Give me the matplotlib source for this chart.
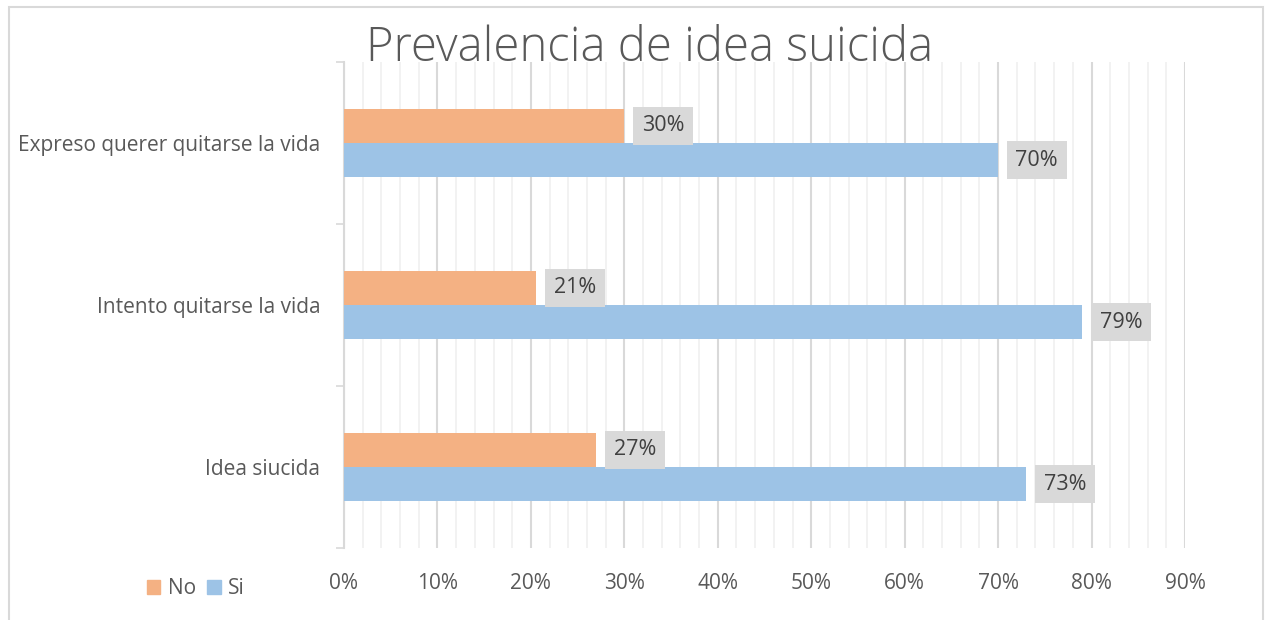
import matplotlib.pyplot as plt
import numpy as np
from matplotlib.patches import Rectangle, Patch
from matplotlib.ticker import MultipleLocator, PercentFormatter

plt.rcParams['font.family'] = ['Open Sans', 'DejaVu Sans']

categorias = ['Idea siucida', 'Intento quitarse la vida', 'Expreso querer quitarse la vida']
no_vals = [0.27, 0.206, 0.30]
si_vals = [0.73, 0.79, 0.70]
etiquetas_no = ['27%', '21%', '30%']
etiquetas_si = ['73%', '79%', '70%']

c_no = '#F4B183'
c_si = '#9DC3E6'
gris = '#595959'

fig = plt.figure(figsize=(12.69, 6.2), dpi=100)
ax = fig.add_axes([344 / 1269, 1 - 548 / 620, (1185 - 344) / 1269, (548 - 62) / 620])

# marco del grafico
fig.patches.append(Rectangle((8.5 / 1269, -0.01), (1263 - 8.5) / 1269, 1 - 6.5 / 620 + 0.01,
                             transform=fig.transFigure, fill=False,
                             edgecolor='#D9D9D9', linewidth=1.5))

y = np.arange(len(categorias))
h = 0.21
ax.barh(y + h / 2, no_vals, height=h, color=c_no, label='No', zorder=3)
ax.barh(y - h / 2, si_vals, height=h, color=c_si, label='Si', zorder=3)

box = dict(boxstyle='square,pad=0.4', facecolor='#D9D9D9', edgecolor='none')
for i in range(len(categorias)):
    ax.annotate(etiquetas_no[i], (no_vals[i], y[i] + h / 2), xytext=(12.5, 0),
                textcoords='offset points', va='center', ha='left',
                fontsize=15.5, color='#404040', bbox=box, zorder=4)
    ax.annotate(etiquetas_si[i], (si_vals[i], y[i] - h / 2), xytext=(12.5, 0),
                textcoords='offset points', va='center', ha='left',
                fontsize=15.5, color='#404040', bbox=box, zorder=4)

ax.set_xlim(0, 0.9)
ax.set_ylim(-0.5, 2.5)
ax.xaxis.set_major_locator(MultipleLocator(0.1))
ax.xaxis.set_minor_locator(MultipleLocator(0.02))
ax.xaxis.set_major_formatter(PercentFormatter(1.0, decimals=0))
ax.grid(axis='x', which='major', color='#D9D9D9', linewidth=1.5, zorder=0)
ax.grid(axis='x', which='minor', color='#F0F0F0', linewidth=1.2, zorder=0)

ax.set_yticks(y)
ax.set_yticklabels(categorias)
ax.set_yticks(np.arange(-0.5, 3, 1), minor=True)
ax.tick_params(axis='y', which='major', length=0, pad=17, labelsize=15, labelcolor=gris)
ax.tick_params(axis='y', which='minor', length=6, color='#D9D9D9', width=1.2)
ax.tick_params(axis='x', which='both', length=0, pad=18, labelsize=15, labelcolor=gris)

for s in ['top', 'right', 'bottom']:
    ax.spines[s].set_visible(False)
ax.spines['left'].set_color('#D9D9D9')
ax.spines['left'].set_linewidth(1.5)

fig.text(650 / 1269, 1 - 49 / 620, 'Prevalencia de idea suicida', ha='center', va='center',
         fontsize=34, color=gris, fontweight='light')

handles = [Patch(color=c_no, label='No'), Patch(color=c_si, label='Si')]
fig.legend(handles=handles, loc='center left', bbox_to_anchor=(128 / 1269, 1 - 589 / 620),
           ncol=2, frameon=False, fontsize=15, labelcolor=gris, handlelength=0.65,
           handleheight=0.65, handletextpad=0.35, columnspacing=0.55)

fig.savefig('out.png', dpi=100)
